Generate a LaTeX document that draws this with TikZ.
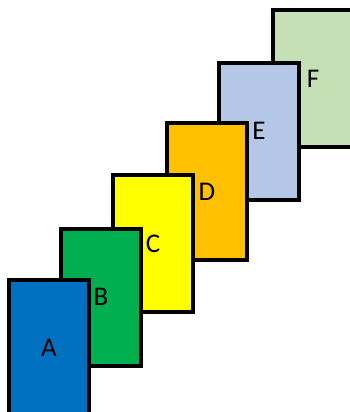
\documentclass[tikz,border=0pt]{standalone}
\usepackage{fontspec}
\setmainfont{Carlito}
\definecolor{cA}{HTML}{0070C0}
\definecolor{cB}{HTML}{00B050}
\definecolor{cC}{HTML}{FFFF00}
\definecolor{cD}{HTML}{FFC000}
\definecolor{cE}{HTML}{B4C7E7}
\definecolor{cF}{HTML}{C5E0B4}
\begin{document}
\begin{tikzpicture}[x=1pt,y=1pt,
  card/.style={draw=black, line width=3.8pt, rectangle, minimum width=79.4pt, minimum height=137pt, inner sep=0pt, font=\fontsize{27}{30}\selectfont}]
\useasboundingbox (0,0) rectangle (350,412);
\clip (0,0) rectangle (350,412);
\node[card, fill=cF] (F) at (313,333.5) {F};
\node[card, fill=cE] (E) at (259,280.8) {E};
\node[card, fill=cD] (D) at (207,220.2) {D};
\node[card, fill=cC] (C) at (153,168.2) {C};
\node[card, fill=cB] (B) at (101,114.8) {B};
\node[card, fill=cA] (A) at (49,63.8) {A};
\end{tikzpicture}
\end{document}
